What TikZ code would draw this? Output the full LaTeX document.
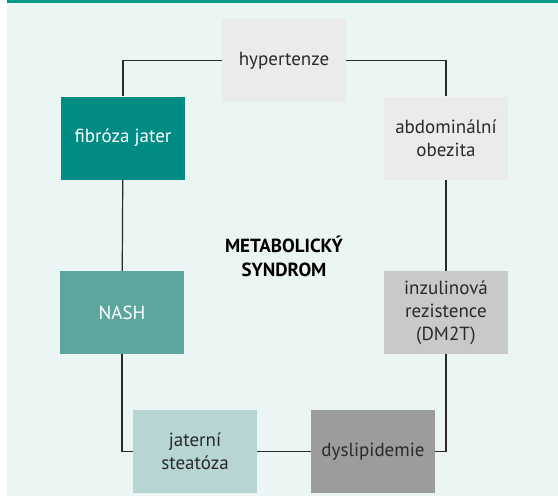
\documentclass[tikz,border=0pt]{standalone}
\usepackage{fontspec}
\setmainfont{PT Sans}
\usetikzlibrary{positioning}
\definecolor{bgmint}{HTML}{EBF5F3}
\definecolor{topteal}{HTML}{00998A}
\definecolor{darkteal}{HTML}{008C84}
\definecolor{midteal}{HTML}{5DA6A0}
\definecolor{paleteal}{HTML}{B7D5D3}
\definecolor{palegray}{HTML}{EBEBEB}
\definecolor{lightgray}{HTML}{C9C9C9}
\definecolor{midgray}{HTML}{9C9C9B}
\definecolor{inkgray}{HTML}{2A2A2A}
\tikzset{
    x=1pt, y=-1pt,
    every box/.style={
        rectangle,
        minimum width=124pt,
        minimum height=83pt,
        inner sep=0pt,
        align=center,
        text=inkgray,
        font=\fontsize{19}{23}\selectfont
    },
    loop line/.style={
        draw=inkgray,
        line width=1.2pt
    }
}

\begin{document}
\begin{tikzpicture}[title node/.style={font=\bfseries\fontsize{19}{24}\selectfont, align=center, text=black}]
    \useasboundingbox (0,0) rectangle (558,496);
    \fill[bgmint] (7,0) rectangle (558,496);
    \fill[topteal] (7,0) rectangle (558,3);

    \node[every box, fill=palegray] (hyp) at (284,60.5) {hypertenze};
    \node[every box, fill=palegray] (abd) at (446,138) {abdominální\\obezita};
    \node[every box, fill=lightgray] (inz) at (446,312.5) {inzulinová\\rezistence\\(DM2T)};
    \node[every box, fill=midgray] (dys) at (373,451.5) {dyslipidemie};
    \node[every box, fill=paleteal] (jat) at (195,451.5) {jaterní\\steatóza};
    \node[every box, fill=midteal, text=white] (nash) at (122,312.5) {NASH};
    \node[every box, fill=darkteal, text=white] (fib) at (123,138) {fibróza jater};
    \node[title node] (ms) at (284,256) {METABOLICKÝ\\SYNDROM};

    \draw[loop line] (hyp) -| (fib);
    \draw[loop line] (fib) -- (nash);
    \draw[loop line] (nash) |- (jat);
    \draw[loop line] (jat) -- (dys);
    \draw[loop line] (dys) -| (inz);
    \draw[loop line] (inz) -- (abd);
    \draw[loop line] (abd) |- (hyp);
\end{tikzpicture}
\end{document}
